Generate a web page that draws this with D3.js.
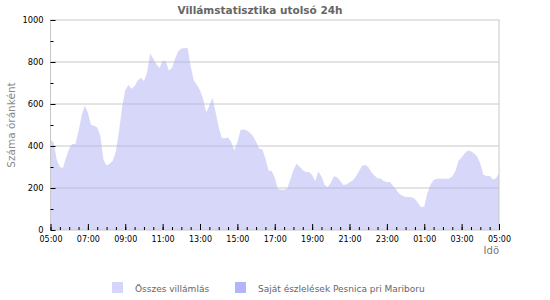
<!DOCTYPE html>
<html>
<head>
<meta charset="utf-8">
<script src="https://cdn.jsdelivr.net/npm/d3@7"></script>
<style>
  body { margin: 0; background: #fff; }
  text { font-family: "DejaVu Sans", sans-serif; }
</style>
</head>
<body>
<div id="chart"></div>
<script>
// data: lightning count per hour, sampled every 10 minutes from 05:00
var startTime = "2024-06-01T05:00:00";
var stepMinutes = 10;
var totalValues = [
  430, 418, 335, 300, 295, 345, 388, 409, 410, 472, 545, 592, 560,
  500, 497, 488, 448, 333, 307, 315, 330, 375, 470, 585, 665,
  690, 673, 685, 712, 724, 710, 750, 840, 815, 789, 771, 806,
  805, 760, 772, 815, 850, 864, 866, 868, 780, 712, 692, 665,
  625, 560, 592, 630, 562, 490, 438, 437, 441, 420, 378, 418,
  476, 478, 474, 463, 448, 420, 387, 385, 340, 283, 281, 250,
  195, 192, 192, 198, 240, 285, 316, 301, 284, 276, 276, 262,
  232, 278, 255, 216, 203, 225, 256, 251, 235, 214, 217, 227,
  236, 253, 278, 305, 309, 300, 276, 259, 247, 245, 233, 229,
  228, 210, 192, 173, 163, 157, 157, 156, 148, 128, 108, 112,
  175, 215, 238, 244, 244, 244, 244, 245, 256, 280, 330, 345,
  365, 378, 375, 364, 350, 315, 263, 257, 258, 241, 245, 270
];
var ownValues = []; // own station series: nothing visible in the last 24h
var yTicks = [0, 200, 400, 600, 800, 1000];
var yMinorTicks = [100, 300, 500, 700, 900];
var xTickHours = [0, 2, 4, 6, 8, 10, 12, 14, 16, 18, 20, 22, 24]; // hours after start
var legendLabels = ["Összes villámlás", "Saját észlelések Pesnica pri Mariboru"];
var legendColors = ["#d6d6fc", "#b4b4fa"];

var width = 550, height = 300;
var margin = { top: 20, right: 51, bottom: 70, left: 50.5 };

var t0 = new Date(startTime);
var t1 = d3.timeHour.offset(t0, 24);
var data = totalValues.map(function (v, i) {
  return { t: d3.timeMinute.offset(t0, i * stepMinutes), v: v };
});

var x = d3.scaleTime()
  .domain([t0, t1])
  .range([margin.left, width - margin.right]);

var y = d3.scaleLinear()
  .domain([0, 1000])
  .range([height - margin.bottom, margin.top]);

var svg = d3.select("#chart").append("svg")
  .attr("width", width)
  .attr("height", height);

svg.append("text")
  .attr("x", 260)
  .attr("y", 14)
  .attr("text-anchor", "middle")
  .style("font-size", "10.5px")
  .style("font-weight", "bold")
  .attr("fill", "#666")
  .text("Villámstatisztika utolsó 24h");

// gridlines
svg.append("g").selectAll("line")
  .data(yTicks.filter(function (d) { return d > 0 && d < 1000; }))
  .enter().append("line")
  .attr("x1", x(t0)).attr("x2", x(t1))
  .attr("y1", function (d) { return y(d); })
  .attr("y2", function (d) { return y(d); })
  .attr("stroke", "#c8c8c8");

var area = d3.area()
  .x(function (d) { return x(d.t); })
  .y0(y(0))
  .y1(function (d) { return y(d.v); });

svg.append("path")
  .datum(data)
  .attr("d", area)
  .attr("fill", "#b0b0f6")
  .attr("fill-opacity", 0.5);

svg.append("path")
  .datum(ownValues.map(function (v, i) { return { t: d3.timeMinute.offset(t0, i * stepMinutes), v: v }; }))
  .attr("d", area)
  .attr("fill", legendColors[1]);

// frame
svg.append("rect")
  .attr("x", x(t0)).attr("y", y(1000))
  .attr("width", x(t1) - x(t0))
  .attr("height", y(0) - y(1000))
  .attr("fill", "none")
  .attr("stroke", "#c8c8c8");

// y axis
var yAxis = svg.append("g")
  .attr("transform", "translate(" + x(t0) + ",0)")
  .call(d3.axisLeft(y).tickValues(yTicks).tickFormat(d3.format("d"))
    .tickSizeInner(-5).tickSizeOuter(0).tickPadding(7));
yAxis.select(".domain").remove();
yAxis.selectAll("text").style("font-size", "8.3px").attr("fill", "#000");

var yMinor = svg.append("g")
  .attr("transform", "translate(" + x(t0) + ",0)")
  .call(d3.axisLeft(y).tickValues(yMinorTicks).tickSizeInner(-3).tickSizeOuter(0).tickFormat(""));
yMinor.select(".domain").remove();

// x axis
var xAxis = svg.append("g")
  .attr("transform", "translate(0," + y(0) + ")")
  .call(d3.axisBottom(x)
    .tickValues(xTickHours.map(function (h) { return d3.timeHour.offset(t0, h); }))
    .tickFormat(d3.timeFormat("%H:%M"))
    .tickSizeInner(-6).tickSizeOuter(0).tickPadding(6));
xAxis.select(".domain").remove();
xAxis.selectAll("text").style("font-size", "8px").attr("fill", "#000");

var xMinor = svg.append("g")
  .attr("transform", "translate(0," + y(0) + ")")
  .call(d3.axisBottom(x).ticks(d3.timeMinute.every(30)).tickFormat("")
    .tickSizeInner(-3).tickSizeOuter(0));
xMinor.select(".domain").remove();

// axis titles
svg.append("text")
  .attr("x", x(t1))
  .attr("y", 254)
  .attr("text-anchor", "end")
  .style("font-size", "10px")
  .attr("fill", "#777")
  .text("Idö");

svg.append("text")
  .attr("transform", "translate(15," + ((y(0) + y(1000)) / 2) + ") rotate(-90)")
  .attr("text-anchor", "middle")
  .style("font-size", "10.5px")
  .attr("fill", "#888")
  .text("Száma óránként");

// legend
var legendX = [112, 235];
var legend = svg.append("g").selectAll("g")
  .data(legendLabels)
  .enter().append("g")
  .attr("transform", function (d, i) { return "translate(" + legendX[i] + ",282)"; });

legend.append("rect")
  .attr("width", 11).attr("height", 11)
  .attr("fill", function (d, i) { return legendColors[i]; });

legend.append("text")
  .attr("x", 23)
  .attr("y", 9.5)
  .style("font-size", "9px")
  .attr("fill", "#666")
  .text(function (d) { return d; });
</script>
</body>
</html>
